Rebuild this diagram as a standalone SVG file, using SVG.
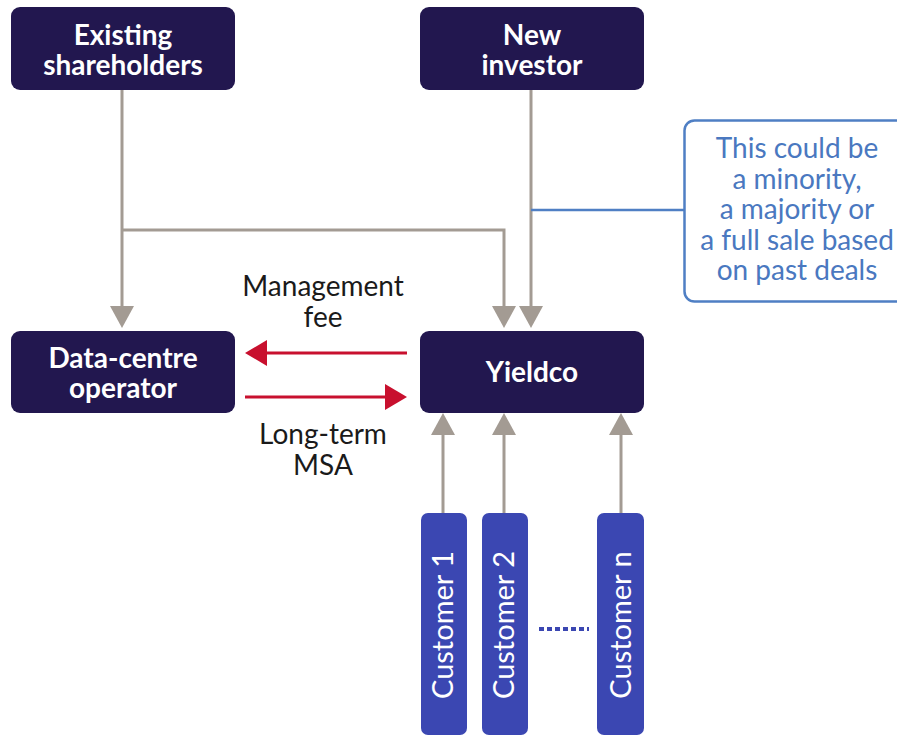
<svg xmlns="http://www.w3.org/2000/svg" width="897" height="736" viewBox="0 0 897 736">
<defs>
<style>
.node{fill:#22174f}
.cust{fill:#3b47b2}
.lbl{font-family:Lato,"Open Sans","Liberation Sans",sans-serif;font-weight:bold;font-size:28px;fill:#ffffff;text-anchor:middle}
.clbl{font-family:Lato,"Open Sans","Liberation Sans",sans-serif;font-size:29px;fill:#ffffff;text-anchor:middle}
.edge{font-family:Lato,"Open Sans","Liberation Sans",sans-serif;font-size:28px;fill:#1a1a1a;text-anchor:middle}
.note{font-family:Lato,"Open Sans","Liberation Sans",sans-serif;font-size:28px;fill:#4a78c0;text-anchor:middle}
.grey{stroke:#a39b93;stroke-width:3;fill:none}
.red{stroke:#c8102e;stroke-width:3;fill:none}
.blue{stroke:#4f7fc4;stroke-width:2.5;fill:none}
</style>
<marker id="ag" markerUnits="userSpaceOnUse" markerWidth="24" markerHeight="24" viewBox="0 0 22 24" refX="12" refY="12" orient="auto"><path d="M0,0 L22,12 L0,24 z" fill="#a39b93"/></marker>
<marker id="ar" markerUnits="userSpaceOnUse" markerWidth="24" markerHeight="26" viewBox="0 0 22 26" refX="12" refY="13" orient="auto"><path d="M0,0 L22,13 L0,26 z" fill="#c8102e"/></marker>
</defs>
<g id="connectors">
<path class="grey" d="M122,90 V318" marker-end="url(#ag)"/>
<path class="grey" d="M122,230 H504 V318" marker-end="url(#ag)"/>
<path class="grey" d="M531,90 V318" marker-end="url(#ag)"/>
<path class="grey" d="M443,513 V423" marker-end="url(#ag)"/>
<path class="grey" d="M504,513 V423" marker-end="url(#ag)"/>
<path class="grey" d="M621,513 V423" marker-end="url(#ag)"/>
<path class="red" d="M407,353 H255" marker-end="url(#ar)"/>
<path class="red" d="M245,397 H397" marker-end="url(#ar)"/>
<path class="blue" d="M531,210 H684"/>
<path d="M539,629 H589" stroke="#3b47b2" stroke-width="4" stroke-dasharray="5,3"/>
<text class="edge" x="323" y="296">Management</text>
<text class="edge" x="323" y="327">fee</text>
<text class="edge" x="323" y="444">Long-term</text>
<text class="edge" x="323" y="475">MSA</text>
</g>
<g id="existing-shareholders">
<rect class="node" x="11" y="7" width="224" height="83" rx="9"/>
<text class="lbl" x="123" y="44.5">Existing</text>
<text class="lbl" x="123" y="75">shareholders</text>
</g>
<g id="new-investor">
<rect class="node" x="420" y="7" width="224" height="83" rx="9"/>
<text class="lbl" x="532" y="44.5">New</text>
<text class="lbl" x="532" y="75">investor</text>
</g>
<g id="note">
<rect x="684.5" y="120.5" width="240" height="181" rx="10" fill="#ffffff" stroke="#4f7fc4" stroke-width="2.5"/>
<text class="note" x="797" y="158">This could be</text>
<text class="note" x="797" y="188.5">a minority,</text>
<text class="note" x="797" y="219">a majority or</text>
<text class="note" x="797" y="249.5">a full sale based</text>
<text class="note" x="797" y="280">on past deals</text>
</g>
<g id="data-centre-operator">
<rect class="node" x="11" y="331" width="224" height="82" rx="9"/>
<text class="lbl" x="123" y="367.5">Data-centre</text>
<text class="lbl" x="123" y="398">operator</text>
</g>
<g id="yieldco">
<rect class="node" x="420" y="331" width="224" height="82" rx="9"/>
<text class="lbl" x="532" y="382">Yieldco</text>
</g>
<g id="customer-1">
<rect class="cust" x="421" y="513" width="46" height="222" rx="7"/>
<text class="clbl" transform="translate(443,625) rotate(-90)" dy="10">Customer 1</text>
</g>
<g id="customer-2">
<rect class="cust" x="482" y="513" width="46" height="222" rx="7"/>
<text class="clbl" transform="translate(504,625) rotate(-90)" dy="10">Customer 2</text>
</g>
<g id="customer-n">
<rect class="cust" x="597" y="513" width="47" height="222" rx="7"/>
<text class="clbl" transform="translate(621,625) rotate(-90)" dy="10">Customer n</text>
</g>
</svg>
